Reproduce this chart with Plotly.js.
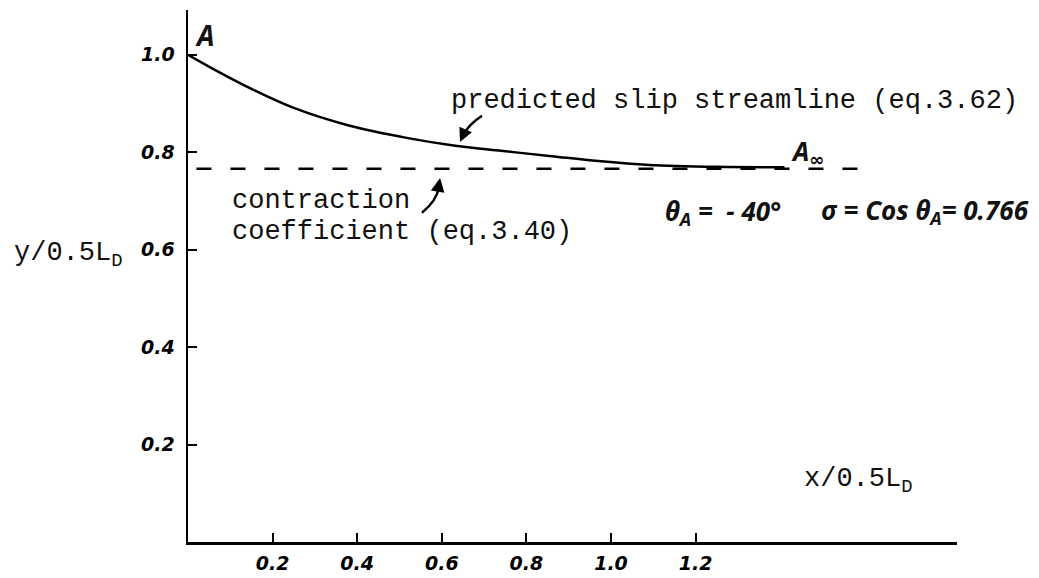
<!DOCTYPE html>
<html>
<head>
<meta charset="utf-8">
<script src="https://cdn.plot.ly/plotly-3.0.1.min.js"></script>
<style>
  html, body { margin: 0; padding: 0; background: #fff; }
  #chart { width: 1039px; height: 578px; }
</style>
</head>
<body>
<div id="chart"></div>
<script>
// Predicted slip streamline (eq. 3.62), in x/0.5L_D and y/0.5L_D
const streamX = [0, 0.07, 0.15, 0.25, 0.38, 0.52, 0.62, 0.74, 0.86, 0.97, 1.09, 1.25, 1.41];
const streamY = [1.0, 0.966, 0.930, 0.891, 0.855, 0.829, 0.815, 0.803, 0.792, 0.782, 0.774, 0.770, 0.769];

// Contraction coefficient (eq. 3.40): sigma = cos(theta_A) = 0.766
const contractionX = [0.02, 1.596];
const contractionValue = 0.766;

// Axis ticks
const xTickVals = [0.2, 0.4, 0.6, 0.8, 1.0, 1.2];
const xTickText = ['0.2', '0.4', '0.6', '0.8', '1.0', '1.2'];
const yTickVals = [0.2, 0.4, 0.6, 0.8, 1.0];
const yTickText = ['0.2', '0.4', '0.6', '0.8', '1.0'];

const typeFont = { family: 'Liberation Mono, Courier New, monospace', size: 27, color: '#111' };
const handFont = { family: 'Noto Sans, DejaVu Sans, sans-serif', size: 26, color: '#111', weight: 'bold', style: 'italic' };

const traces = [
  {
    x: streamX, y: streamY, type: 'scatter', mode: 'lines',
    line: { color: '#000', width: 2.5, shape: 'spline', smoothing: 1 },
    hoverinfo: 'skip', showlegend: false
  },
  {
    x: contractionX, y: contractionX.map(() => contractionValue),
    type: 'scatter', mode: 'lines',
    line: { color: '#000', width: 2.5, dash: '15px,19px' },
    hoverinfo: 'skip', showlegend: false
  }
];

const axisCommon = {
  showgrid: false, zeroline: false, showline: true,
  linecolor: '#000', linewidth: 2.5,
  ticks: 'inside', ticklen: 9, tickwidth: 2, tickcolor: '#000',
  tickmode: 'array', fixedrange: true,
  tickfont: { family: 'DejaVu Sans, sans-serif', size: 19, color: '#000', weight: 'bold', style: 'italic' }
};

// Curved pointer shafts (quadratic curves, in axis units)
const pointerStyle = { type: 'path', xref: 'x', yref: 'y', line: { color: '#000', width: 2.5 } };

const layout = {
  width: 1039, height: 578,
  margin: { l: 188, r: 82, t: 10, b: 36 },
  paper_bgcolor: '#fff', plot_bgcolor: '#fff',
  showlegend: false,
  xaxis: Object.assign({}, axisCommon, {
    range: [0, 1.818], tickvals: xTickVals, ticktext: xTickText, ticklabelstandoff: 3
  }),
  yaxis: Object.assign({}, axisCommon, {
    range: [0, 1.092], tickvals: yTickVals, ticktext: yTickText, ticklabelstandoff: 7
  }),
  shapes: [
    Object.assign({}, pointerStyle, { path: 'M 0.695 0.875 Q 0.662 0.856 0.650 0.834' }),
    Object.assign({}, pointerStyle, { path: 'M 0.553 0.676 Q 0.588 0.700 0.594 0.730' })
  ],
  annotations: [
    { x: 0.040, y: 1.041, text: 'A', showarrow: false, font: Object.assign({}, handFont, { size: 28 }) },
    { x: 1.465, y: 0.800, text: 'A<sub>∞</sub>', showarrow: false, font: handFont },
    { x: 1.265, y: 0.678, text: 'θ<sub>A</sub> =  - 40°', showarrow: false, font: handFont },
    { x: 1.742, y: 0.680, text: 'σ = Cos θ<sub>A</sub>= 0.766', showarrow: false, font: handFont },
    { x: 0.617, y: 0.906, text: 'predicted slip streamline (eq.3.62)', xanchor: 'left', showarrow: false, font: typeFont },
    { x: 0.099, y: 0.700, text: 'contraction', xanchor: 'left', showarrow: false, font: typeFont },
    { x: 0.099, y: 0.637, text: 'coefficient (eq.3.40)', xanchor: 'left', showarrow: false, font: typeFont },
    { x: 1.452, y: 0.125, text: 'x/0.5L<sub>D</sub>', xanchor: 'left', showarrow: false, font: typeFont },
    { xref: 'paper', x: -0.229, y: 0.589, text: 'y/0.5L<sub>D</sub>', xanchor: 'left', showarrow: false, font: typeFont },
    // arrowheads at the ends of the curved pointers
    { x: 0.643, y: 0.821, text: '', showarrow: true, ax: 5, ay: -11,
      arrowhead: 2, arrowsize: 1.1, arrowwidth: 2.5, arrowcolor: '#000' },
    { x: 0.596, y: 0.747, text: '', showarrow: true, ax: -2, ay: 11,
      arrowhead: 2, arrowsize: 1.1, arrowwidth: 2.5, arrowcolor: '#000' }
  ]
};

Plotly.newPlot('chart', traces, layout, { displayModeBar: false, staticPlot: true });
</script>
</body>
</html>
